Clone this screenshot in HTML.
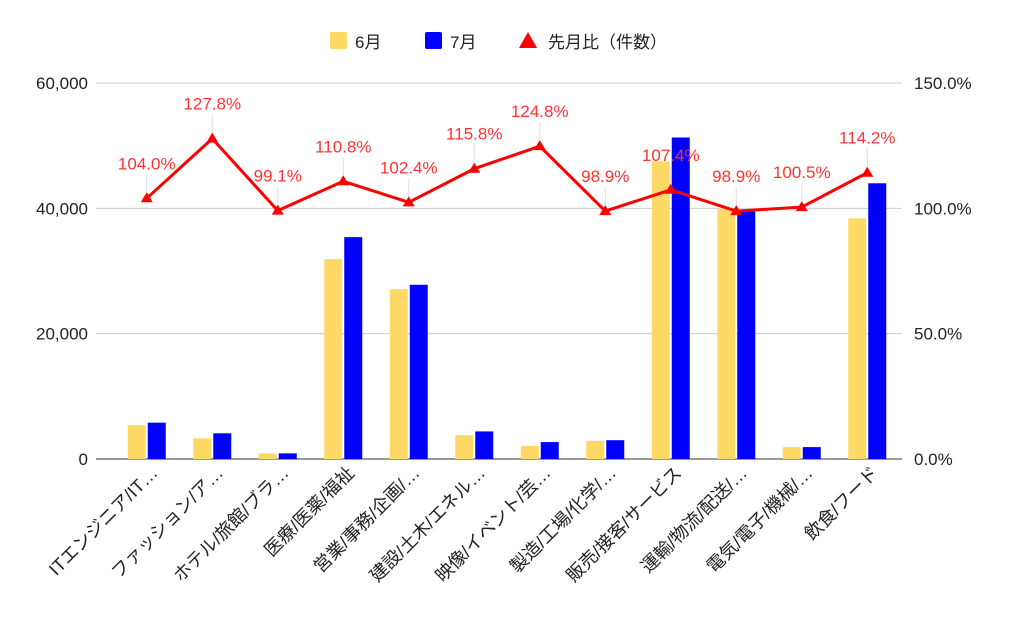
<!DOCTYPE html>
<html><head><meta charset="utf-8"><style>
body{margin:0;background:#fff}
svg{font-family:"Liberation Sans","Noto Sans CJK JP",sans-serif}
</style></head><body>
<svg id="c" width="1024" height="633">
<g>
<rect x="330" y="32" width="17" height="17" rx="2" fill="#ffd966"/>
<text x="355" y="48" font-size="17" fill="#222">6月</text>
<rect x="425" y="32" width="17" height="17" rx="2" fill="#0000ff"/>
<text x="450" y="48" font-size="17" fill="#222">7月</text>
<polygon points="528,32 537,48 519,48" fill="#ff0000"/>
<text x="548" y="48" font-size="17" fill="#222">先月比（件数）</text>
</g>
</svg>
<script>
const categories=["ITエンジニア/IT…","ファッション/ア…","ホテル/旅館/ブラ…","医療/医薬/福祉","営業/事務/企画/…","建設/土木/エネル…","映像/イベント/芸…","製造/工場/化学/…","販売/接客/サービス","運輸/物流/配送/…","電気/電子/機械/…","飲食/フード"];
const june=[5400,3300,900,31900,27100,3800,2100,2900,47500,39900,1900,38400];
const july=[5800,4100,900,35400,27800,4400,2700,3000,51300,39500,1900,44000];
const ratio=[104.0,127.8,99.1,110.8,102.4,115.8,124.8,98.9,107.4,98.9,100.5,114.2];
const leftTicks=[0,20000,40000,60000];
const rightTicks=[0,50,100,150];
const svg=document.getElementById('c');const NS='http://www.w3.org/2000/svg';
function mk(t,a,p){const e=document.createElementNS(NS,t);for(const k in a)e.setAttribute(k,a[k]);(p||svg).appendChild(e);return e;}
const x0=114,x1=900,yTop=83,yBot=459;
const bw=(x1-x0)/categories.length;
const xc=i=>x0+bw*(i+0.5);
const yL=v=>yBot-(v/60000)*(yBot-yTop);
const yR=v=>yBot-(v/150)*(yBot-yTop);
leftTicks.forEach((t,i)=>{
 const l=mk('line',{x1:96,x2:902,y1:yL(t),y2:yL(t),stroke:i==0?'#333':'#ccc','stroke-width':1});
 
 const tx=mk('text',{x:88,y:yL(t)+6,'text-anchor':'end','font-size':17,fill:'#222'});tx.textContent=t.toLocaleString('en-US');
 
});
rightTicks.forEach(t=>{
 const tx=mk('text',{x:914,y:yR(t)+6,'font-size':17,fill:'#222'});tx.textContent=t.toFixed(1)+'%';
 
});
categories.forEach((c,i)=>{
 const b1=mk('rect',{x:xc(i)-19,y:yL(june[i]),width:18,height:yBot-yL(june[i]),fill:'#ffd966'});
 
 const b2=mk('rect',{x:xc(i)+1,y:yL(july[i]),width:18,height:yBot-yL(july[i]),fill:'#0000ff'});
 
 const tx=mk('text',{x:0,y:0,'text-anchor':'end','font-size':18,fill:'#222',transform:`translate(${xc(i)+12},${474}) rotate(-45)`});tx.textContent=c;
 
});
const pts=ratio.map((r,i)=>xc(i)+','+yR(r)).join(' ');
const pl=mk('polyline',{points:pts,fill:'none',stroke:'#ff0000','stroke-width':3,'stroke-linejoin':'round'});

ratio.forEach((r,i)=>{
 const x=xc(i),y=yR(r);
 const ld=mk('line',{x1:x,x2:x,y1:y-24,y2:y-6,stroke:'#ddd','stroke-width':1});
 
 const m=mk('polygon',{points:`${x},${y-6} ${x+6},${y+4} ${x-6},${y+4}`,fill:'#ff0000'});
 
 const tx=mk('text',{x:x,y:y-29,'text-anchor':'middle','font-size':17,fill:'#ff3333'});tx.textContent=r.toFixed(1)+'%';
 
});
</script>
</body></html>
